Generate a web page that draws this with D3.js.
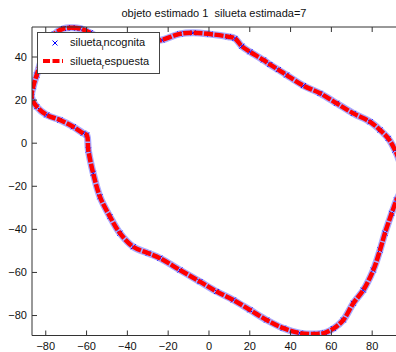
<!DOCTYPE html>
<html>
<head>
<meta charset="utf-8">
<script src="https://cdn.jsdelivr.net/npm/d3@7"></script>
<style>
    body { margin: 0; background: #fff; }
    svg { display: block; font-family: "Liberation Sans", Arial, sans-serif; }
</style>
</head>
<body>
<svg id="chart"></svg>
<script>
// contour points (x, y), going clockwise from the top-left bump
const contourX = [-67, -63, -58, -52, -44, -35, -27, -22.9, -14, -7.5, 0.7, 9.7, 13, 16.3, 20.3, 26.9, 30.1, 34.2,
    38.3, 46.5, 54.7, 62.8, 71, 79.2, 84.1, 88.1, 91.4, 94, 94.5, 93.5, 92.2, 89.8, 86.5, 84.1, 80.8, 75.9, 71,
    66.1, 61.2, 57, 53, 44.9, 36.7, 28.5, 20.3, 12.2, 4, -4.2, -14, -23.8, -29.5, -36.9, -43.4, -48.3, -53.2,
    -56.5, -58.9, -59.7, -61.4, -66.3, -72.8, -79.3, -84.2, -86.7, -85.9, -84.2, -82, -79, -75.5, -71, -67];
const contourY = [53.3, 53, 51, 48, 46.3, 46.5, 47.2, 47.7, 50.5, 51, 50.4, 49.2, 48.4, 44.8, 42.2, 38.4, 36.3, 33.9,
    31.4, 26.5, 22.9, 18.3, 13.6, 9.7, 5.9, 2, -3.4, -10, -18, -24, -26.6, -32.8, -42, -49.8, -59.1, -68.4, -74.5,
    -82.3, -86.3, -88.3, -88.8, -88.4, -86.1, -82.3, -77.6, -73, -69.1, -64.5, -59.1, -53.6, -51.3, -48.3, -42, -34.3, -25.1,
    -14.2, -3.4, 3.6, 4.4, 7.4, 10.5, 12.9, 16.7, 21.3, 26, 31.4, 38, 45, 50.5, 53, 53.3];

const xTicks = [-80, -60, -40, -20, 0, 20, 40, 60, 80];
const yTicks = [-80, -60, -40, -20, 0, 20, 40];
const xLimits = [-86.5, 93];
const yLimits = [-89.5, 53.7];

const titleText = "objeto estimado 1  silueta estimada=7";
// legend labels come as [before, subscript, after] like the tex interpreter shows them
const legendLabels = [["silueta", "i", "ncognita"], ["silueta", "r", "espuesta"]];

const width = 396, height = 352;
const margin = { top: 27, left: 32, right: -2.2, bottom: 16.5 };

const svg = d3.select("#chart").attr("width", width).attr("height", height);

const x = d3.scaleLinear().domain(xLimits).range([margin.left, width - margin.right]);
const y = d3.scaleLinear().domain(yLimits).range([height - margin.bottom, margin.top]);

const points = contourX.map((v, i) => [v, contourY[i]]);

svg.append("clipPath").attr("id", "plot-clip")
    .append("rect")
    .attr("x", margin.left).attr("y", 18)
    .attr("width", x.range()[1] - margin.left)
    .attr("height", y.range()[0] - 18);

const plot = svg.append("g").attr("clip-path", "url(#plot-clip)");
const line = d3.line().x(d => x(d[0])).y(d => y(d[1])).curve(d3.curveCatmullRom.alpha(0.5));

// light blue halo of the dense markers
plot.append("path")
    .datum(points)
    .attr("d", line)
    .attr("fill", "none")
    .attr("stroke", "#a9a9ff")
    .attr("stroke-width", 7);

const cross = (cx, cy, s) => `M${cx - s},${cy - s}L${cx + s},${cy + s}M${cx - s},${cy + s}L${cx + s},${cy - s}`;

plot.selectAll("path.marker")
    .data(points)
    .join("path")
    .attr("class", "marker")
    .attr("d", d => cross(x(d[0]), y(d[1]), 2.5))
    .attr("stroke", "#0000ff")
    .attr("stroke-width", 1);

plot.append("path")
    .datum(points)
    .attr("d", line)
    .attr("fill", "none")
    .attr("stroke", "#ff0000")
    .attr("stroke-width", 4.5)
    .attr("stroke-dasharray", "9,1.5");

// axes: box lines with inward ticks like matlab
const axisColor = "#333";
const x0 = margin.left, x1 = x.range()[1], yTop = margin.top, yBot = y.range()[0];

svg.append("line").attr("x1", x0).attr("x2", x1).attr("y1", yTop).attr("y2", yTop).attr("stroke", axisColor);
svg.append("line").attr("x1", x0).attr("x2", x1).attr("y1", yBot).attr("y2", yBot).attr("stroke", axisColor);
svg.append("line").attr("x1", x0).attr("x2", x0).attr("y1", yTop).attr("y2", yBot).attr("stroke", axisColor);

const xAxisBottom = svg.append("g")
    .attr("transform", `translate(0, ${yBot})`)
    .call(d3.axisBottom(x).tickValues(xTicks).tickSizeInner(-5).tickSizeOuter(0).tickPadding(8));
const xAxisTop = svg.append("g")
    .attr("transform", `translate(0, ${yTop})`)
    .call(d3.axisTop(x).tickValues(xTicks).tickSizeInner(-5).tickSizeOuter(0).tickFormat(""));
const yAxis = svg.append("g")
    .attr("transform", `translate(${x0}, 0)`)
    .call(d3.axisLeft(y).tickValues(yTicks).tickSizeInner(-5).tickSizeOuter(0).tickPadding(4));

[xAxisBottom, xAxisTop, yAxis].forEach(a => {
    a.select(".domain").remove();
    a.selectAll(".tick line").attr("stroke", axisColor);
    a.selectAll("text").attr("fill", "#111").style("font-size", "11px").style("font-family", "'Liberation Sans', Arial, sans-serif");
});
xAxisBottom.selectAll("text").attr("dy", "0.71em").attr("y", 7);
yAxis.selectAll("text").attr("dx", "-1");

svg.append("text")
    .attr("x", 214)
    .attr("y", 17)
    .attr("text-anchor", "middle")
    .attr("fill", "#111")
    .style("font-size", "11px")
    .style("white-space", "pre")
    .text(titleText);

// legend
const legend = svg.append("g");
legend.append("rect")
    .attr("x", 37.5).attr("y", 32.5)
    .attr("width", 122).attr("height", 41)
    .attr("fill", "#fff")
    .attr("stroke", "#444");

legend.append("path")
    .attr("d", cross(55, 43, 2.5))
    .attr("stroke", "#0000ff");
legend.append("line")
    .attr("x1", 43).attr("x2", 63).attr("y1", 61).attr("y2", 61)
    .attr("stroke", "#ff0000")
    .attr("stroke-width", 4)
    .attr("stroke-dasharray", "7,2.5");

legendLabels.forEach((parts, i) => {
    const t = legend.append("text")
        .attr("x", 70)
        .attr("y", 46 + i * 19)
        .attr("fill", "#111")
        .style("font-size", "11px");
    t.append("tspan").text(parts[0]);
    t.append("tspan").attr("dy", 4).style("font-size", "8px").text(parts[1]);
    t.append("tspan").attr("dy", -4).text(parts[2]);
});
</script>
</body>
</html>
